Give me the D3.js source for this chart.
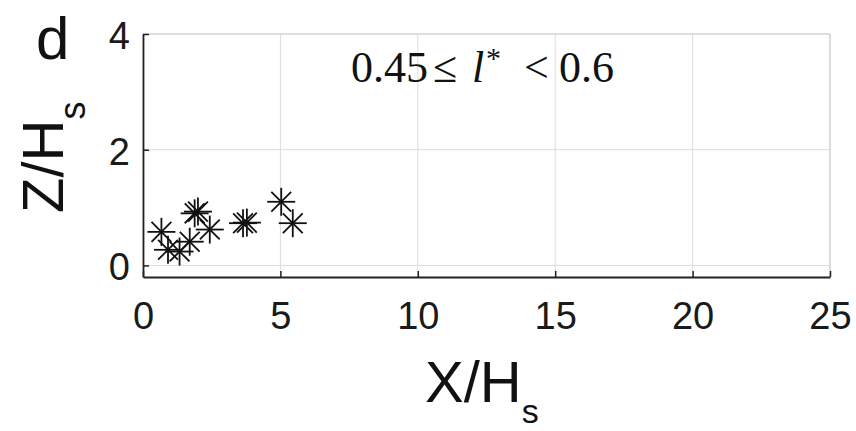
<!DOCTYPE html>
<html>
<head>
<meta charset="utf-8">
<script src="https://cdn.jsdelivr.net/npm/d3@7"></script>
<style>
body { margin: 0; background: #fff; }
svg text { font-family: "Liberation Sans", Arial, sans-serif; }
</style>
</head>
<body>
<div id="chart"></div>
<script>
var width = 856;
var height = 431;

// data
var xVals = [0.67, 0.91, 1.33, 1.70, 1.88, 2.00, 2.43, 3.64, 3.78, 5.03, 5.45];
var yVals = [0.58, 0.27, 0.24, 0.41, 0.90, 0.93, 0.62, 0.73, 0.74, 1.10, 0.73];
var xTicks = [0, 5, 10, 15, 20, 25];
var yTicks = [0, 2, 4];

var margin = {left: 143, right: 26, top: 34, bottom: 154};

var svg = d3.select("#chart").append("svg")
  .attr("width", width)
  .attr("height", height);

var x = d3.scaleLinear().domain([0, 25]).range([margin.left, width - margin.right]);
var y = d3.scaleLinear().domain([-0.2, 4]).range([height - margin.bottom, margin.top]);

// grid
svg.append("g").selectAll("line.gx")
  .data(xTicks).enter().append("line")
  .attr("x1", function(d) { return x(d); })
  .attr("x2", function(d) { return x(d); })
  .attr("y1", y(-0.2)).attr("y2", y(4))
  .attr("stroke", "#dcdcdc").attr("stroke-width", 1);

svg.append("g").selectAll("line.gy")
  .data(yTicks).enter().append("line")
  .attr("x1", x(0)).attr("x2", x(25))
  .attr("y1", function(d) { return y(d); })
  .attr("y2", function(d) { return y(d); })
  .attr("stroke", "#dcdcdc").attr("stroke-width", 1);

// top and right box lines (light)
svg.append("line").attr("x1", x(0)).attr("x2", x(25)).attr("y1", y(4)).attr("y2", y(4))
  .attr("stroke", "#cfcfcf").attr("stroke-width", 1.2);
svg.append("line").attr("x1", x(25)).attr("x2", x(25)).attr("y1", y(4)).attr("y2", y(-0.2))
  .attr("stroke", "#cfcfcf").attr("stroke-width", 1.2);

// axes
var xAxis = svg.append("g")
  .attr("transform", "translate(0," + y(-0.2) + ")")
  .call(d3.axisBottom(x).tickValues(xTicks).tickFormat(d3.format("d"))
    .tickSizeInner(-6).tickSizeOuter(0).tickPadding(25));
var yAxis = svg.append("g")
  .attr("transform", "translate(" + x(0) + ",0)")
  .call(d3.axisLeft(y).tickValues(yTicks).tickFormat(d3.format("d"))
    .tickSizeInner(-6).tickSizeOuter(0).tickPadding(13));

[xAxis, yAxis].forEach(function(g) {
  g.select(".domain").attr("stroke", "#222").attr("stroke-width", 1.8);
  g.selectAll(".tick line").attr("stroke", "#222").attr("stroke-width", 1.5);
  g.selectAll(".tick text")
    .attr("fill", "#1a1a1a")
    .style("font-size", "38px")
    .style("font-family", "Liberation Sans, Arial, sans-serif");
});
xAxis.selectAll(".tick text").attr("dy", "0.71em");
yAxis.selectAll(".tick text").attr("dy", "0.38em");

// asterisk markers
var r = 14;
var arms = [[0, 1], [1, 0], [0.7071, 0.7071], [0.7071, -0.7071]];
var pts = xVals.map(function(v, i) { return [v, yVals[i]]; });
var marks = svg.append("g").selectAll("g.pt")
  .data(pts).enter().append("g")
  .attr("transform", function(d) { return "translate(" + x(d[0]) + "," + y(d[1]) + ")"; });
arms.forEach(function(a) {
  marks.append("line")
    .attr("x1", -a[0] * r).attr("y1", -a[1] * r)
    .attr("x2", a[0] * r).attr("y2", a[1] * r)
    .attr("stroke", "#111").attr("stroke-width", 1.8);
});

// panel letter
svg.append("text").attr("x", 36).attr("y", 59)
  .style("font-size", "60px").attr("fill", "#111").text("d");

// y label
var yl = svg.append("text")
  .attr("transform", "translate(63,213) rotate(-90)")
  .attr("fill", "#111")
  .style("font-size", "58px");
yl.append("tspan").text("Z/H");
yl.append("tspan").attr("dy", 22).style("font-size", "36px").text("s");

// x label
var xl = svg.append("text")
  .attr("x", 425).attr("y", 402)
  .attr("fill", "#111")
  .style("font-size", "58px");
xl.append("tspan").text("X/H");
xl.append("tspan").attr("dy", 21).style("font-size", "34px").text("s");

// annotation
var ann = svg.append("text")
  .attr("y", 82)
  .attr("fill", "#111")
  .style("font-family", "Liberation Serif, DejaVu Serif, serif")
  .style("font-size", "44px");
ann.append("tspan").attr("x", 351).text("0.45");
ann.append("tspan").attr("x", 433).text("\u2264");
ann.append("tspan").attr("x", 472).style("font-style", "italic").text("l");
ann.append("tspan").attr("x", 486).attr("dy", -14).style("font-size", "30px").text("*");
ann.append("tspan").attr("x", 524).attr("dy", 14).text("<");
ann.append("tspan").attr("x", 559).text("0.6");
</script>
</body>
</html>
